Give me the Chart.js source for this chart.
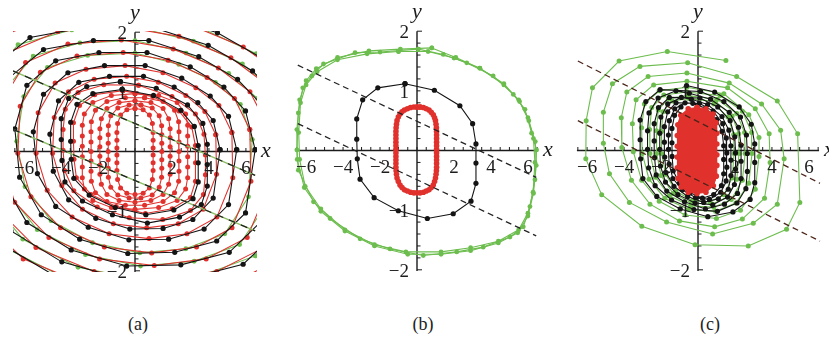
<!DOCTYPE html>
<html>
<head>
<meta charset="utf-8">
<title>Phase portraits</title>
<style>
  body { margin: 0; background: #fff; width: 829px; height: 337px; position: relative; overflow: hidden; }
  canvas { position: absolute; top: 0; }
  .caption { position: absolute; top: 314px; font: 18px "Liberation Serif", "Times New Roman", "DejaVu Serif", serif; color: #222; transform: translateX(-50%); }
</style>
<script src="https://cdn.jsdelivr.net/npm/chart.js@4.4.1/dist/chart.umd.min.js"></script>
</head>
<body>
<canvas id="panelA" width="276" height="290" style="left:0px"></canvas>
<canvas id="panelB" width="276" height="290" style="left:280px"></canvas>
<canvas id="panelC" width="276" height="290" style="left:553px"></canvas>
<div class="caption" style="left:138px">(a)</div>
<div class="caption" style="left:423px">(b)</div>
<div class="caption" style="left:710px">(c)</div>
<script>
// Axis labelling shared by all three panels
const xTickLabels = [-6, -4, -2, 2, 4, 6];
const yTickLabels = [2, 1, -1, -2];

// ---- panel (a): orbits, one array of [x, y] points per turn ----
const aBlackTurns = [
  [[-0.69,1.04],[1.00,0.94],[2.48,0.69],[3.21,0.42],[3.42,0.10],[3.42,-0.19],[3.42,-0.51],[3.14,-0.79],[2.10,-0.98],[0.59,-1.06],[-1.07,-0.94],[-2.48,-0.73],[-3.31,-0.45],[-3.45,-0.13],[-3.48,0.17],[-3.48,0.49],[-3.14,0.79],[-2.28,0.97]],
  [[-0.79,1.17],[1.15,1.06],[2.84,0.78],[3.67,0.47],[3.91,0.12],[3.91,-0.22],[3.91,-0.58],[3.59,-0.89],[2.41,-1.10],[0.67,-1.20],[-1.22,-1.06],[-2.84,-0.83],[-3.79,-0.51],[-3.95,-0.15],[-3.99,0.20],[-3.99,0.55],[-3.59,0.89],[-2.61,1.09]],
  [[4.60,0.03],[4.23,0.52],[3.40,0.82],[2.12,1.08],[0.46,1.26],[-1.38,1.26],[-3.04,1.16],[-4.14,0.85],[-4.60,0.29],[-4.42,-0.33],[-3.59,-0.81],[-2.12,-1.12],[-0.28,-1.30],[1.52,-1.29],[3.13,-1.14],[4.23,-0.78]],
  [[5.50,0.03],[5.06,0.59],[4.07,0.93],[2.53,1.23],[0.55,1.44],[-1.65,1.44],[-3.63,1.32],[-4.95,0.96],[-5.50,0.33],[-5.28,-0.37],[-4.29,-0.92],[-2.53,-1.27],[-0.33,-1.48],[1.82,-1.47],[3.74,-1.30],[5.06,-0.89]],
  [[6.50,0.03],[5.98,0.68],[4.81,1.08],[2.99,1.42],[0.65,1.66],[-1.95,1.66],[-4.29,1.52],[-5.85,1.11],[-6.50,0.38],[-6.24,-0.43],[-5.07,-1.06],[-2.99,-1.47],[-0.39,-1.71],[2.15,-1.69],[4.42,-1.50],[5.98,-1.03]],
  [[7.50,0.04],[6.90,0.77],[5.55,1.21],[3.45,1.59],[0.75,1.86],[-2.25,1.86],[-4.95,1.71],[-6.75,1.25],[-7.50,0.42],[-7.20,-0.48],[-5.85,-1.19],[-3.45,-1.65],[-0.45,-1.92],[2.48,-1.90],[5.10,-1.69],[6.90,-1.15]],
  [[8.60,0.04],[7.91,0.86],[6.36,1.35],[3.96,1.78],[0.86,2.09],[-2.58,2.09],[-5.68,1.91],[-7.74,1.40],[-8.60,0.47],[-8.26,-0.54],[-6.71,-1.33],[-3.96,-1.85],[-0.52,-2.15],[2.84,-2.13],[5.85,-1.89],[7.91,-1.29]],
  [[9.70,0.05],[8.92,0.96],[7.18,1.51],[4.46,1.99],[0.97,2.33],[-2.91,2.33],[-6.40,2.14],[-8.73,1.56],[-9.70,0.53],[-9.31,-0.60],[-7.57,-1.49],[-4.46,-2.06],[-0.58,-2.40],[3.20,-2.38],[6.60,-2.11],[8.92,-1.44]]
];
const aRedTurns = [
  [[0.00,0.72],[0.44,0.70],[0.78,0.61],[0.94,0.47],[0.98,0.32],[0.98,0.19],[0.98,0.06],[0.98,-0.06],[0.98,-0.19],[0.98,-0.32],[0.94,-0.47],[0.78,-0.61],[0.44,-0.70],[0.00,-0.72],[-0.44,-0.70],[-0.78,-0.61],[-0.94,-0.47],[-0.98,-0.32],[-0.98,-0.19],[-0.98,-0.06],[-0.98,0.06],[-0.98,0.19],[-0.98,0.32],[-0.94,0.47],[-0.78,0.61],[-0.44,0.70]],
  [[0.32,0.78],[0.93,0.73],[1.31,0.60],[1.44,0.43],[1.45,0.28],[1.45,0.14],[1.45,0.00],[1.45,-0.14],[1.45,-0.28],[1.44,-0.43],[1.31,-0.60],[0.93,-0.73],[0.32,-0.78],[-0.32,-0.78],[-0.93,-0.73],[-1.31,-0.60],[-1.44,-0.43],[-1.45,-0.28],[-1.45,-0.14],[-1.45,0.00],[-1.45,0.14],[-1.45,0.28],[-1.44,0.43],[-1.31,0.60],[-0.93,0.73],[-0.32,0.78]],
  [[0.00,0.85],[0.86,0.82],[1.52,0.72],[1.82,0.55],[1.90,0.38],[1.90,0.23],[1.90,0.08],[1.90,-0.08],[1.90,-0.23],[1.90,-0.38],[1.82,-0.55],[1.52,-0.72],[0.86,-0.82],[0.00,-0.85],[-0.86,-0.82],[-1.52,-0.72],[-1.82,-0.55],[-1.90,-0.38],[-1.90,-0.23],[-1.90,-0.08],[-1.90,0.08],[-1.90,0.23],[-1.90,0.38],[-1.82,0.55],[-1.52,0.72],[-0.86,0.82]],
  [[0.52,0.90],[1.52,0.84],[2.14,0.69],[2.36,0.50],[2.38,0.33],[2.38,0.16],[2.38,0.00],[2.38,-0.16],[2.38,-0.33],[2.36,-0.50],[2.14,-0.69],[1.52,-0.84],[0.52,-0.90],[-0.52,-0.90],[-1.52,-0.84],[-2.14,-0.69],[-2.36,-0.50],[-2.38,-0.33],[-2.38,-0.16],[-2.38,0.00],[-2.38,0.16],[-2.38,0.33],[-2.36,0.50],[-2.14,0.69],[-1.52,0.84],[-0.52,0.90]],
  [[0.00,0.97],[1.28,0.94],[2.28,0.82],[2.74,0.63],[2.85,0.44],[2.85,0.26],[2.85,0.09],[2.85,-0.09],[2.85,-0.26],[2.85,-0.44],[2.74,-0.63],[2.28,-0.82],[1.28,-0.94],[0.00,-0.97],[-1.28,-0.94],[-2.28,-0.82],[-2.74,-0.63],[-2.85,-0.44],[-2.85,-0.26],[-2.85,-0.09],[-2.85,0.09],[-2.85,0.26],[-2.85,0.44],[-2.74,0.63],[-2.28,0.82],[-1.28,0.94]],
  [[-0.66,1.02],[0.96,0.92],[2.38,0.68],[3.07,0.41],[3.27,0.10],[3.27,-0.19],[3.27,-0.50],[3.00,-0.77],[2.01,-0.96],[0.56,-1.04],[-1.02,-0.92],[-2.38,-0.72],[-3.17,-0.44],[-3.30,-0.13],[-3.33,0.17],[-3.33,0.48],[-3.00,0.77],[-2.18,0.95]],
  [[0.19,1.11],[2.00,0.92],[3.27,0.63],[3.73,0.29],[3.81,-0.06],[3.81,-0.39],[3.70,-0.72],[3.00,-0.99],[1.50,-1.14],[-0.31,-1.11],[-2.04,-0.93],[-3.31,-0.66],[-3.81,-0.32],[-3.89,0.02],[-3.89,0.37],[-3.77,0.71],[-3.08,0.99],[-1.69,1.12]],
  [[4.37,0.28],[3.78,0.67],[2.75,0.94],[1.26,1.16],[-0.45,1.26],[-2.21,1.21],[-3.60,1.00],[-4.37,0.57],[-4.46,-0.03],[-3.96,-0.57],[-2.84,-0.97],[-1.17,-1.21],[0.63,-1.28],[2.34,-1.21],[3.69,-0.97],[4.41,-0.38]],
  [[5.24,0.32],[4.54,0.77],[3.29,1.07],[1.51,1.32],[-0.54,1.44],[-2.65,1.38],[-4.32,1.15],[-5.24,0.65],[-5.35,-0.03],[-4.75,-0.65],[-3.40,-1.10],[-1.40,-1.38],[0.76,-1.46],[2.81,-1.38],[4.43,-1.10],[5.29,-0.44]],
  [[6.21,0.37],[5.38,0.89],[3.90,1.24],[1.79,1.53],[-0.64,1.66],[-3.14,1.60],[-5.12,1.33],[-6.21,0.76],[-6.34,-0.03],[-5.63,-0.76],[-4.03,-1.28],[-1.66,-1.60],[0.90,-1.70],[3.33,-1.60],[5.25,-1.28],[6.27,-0.50]],
  [[7.18,0.42],[6.22,1.00],[4.51,1.40],[2.07,1.72],[-0.74,1.87],[-3.63,1.80],[-5.92,1.49],[-7.18,0.85],[-7.33,-0.04],[-6.51,-0.85],[-4.66,-1.44],[-1.92,-1.80],[1.04,-1.91],[3.85,-1.80],[6.07,-1.44],[7.25,-0.57]],
  [[8.25,0.47],[7.14,1.12],[5.19,1.57],[2.38,1.93],[-0.85,2.10],[-4.17,2.01],[-6.80,1.67],[-8.25,0.95],[-8.42,-0.04],[-7.48,-0.95],[-5.36,-1.61],[-2.21,-2.01],[1.19,-2.14],[4.42,-2.01],[6.97,-1.61],[8.33,-0.64]],
  [[9.31,0.52],[8.06,1.26],[5.86,1.75],[2.69,2.16],[-0.96,2.35],[-4.70,2.25],[-7.68,1.87],[-9.31,1.07],[-9.50,-0.05],[-8.45,-1.07],[-6.05,-1.80],[-2.50,-2.25],[1.34,-2.39],[4.99,-2.25],[7.87,-1.80],[9.41,-0.71]]
];
const aGreenTurns = [
  [[6.34,0.20],[5.70,0.79],[4.35,1.16],[2.37,1.46],[0.00,1.65],[-2.56,1.61],[-4.74,1.41],[-6.02,0.92],[-6.40,0.17],[-5.95,-0.59],[-4.54,-1.16],[-2.30,-1.53],[0.26,-1.70],[2.75,-1.63],[4.86,-1.38],[6.14,-0.76]],
  [[7.38,0.23],[6.63,0.89],[5.07,1.31],[2.76,1.65],[0.00,1.86],[-2.98,1.82],[-5.51,1.60],[-7.00,1.05],[-7.45,0.19],[-6.93,-0.67],[-5.29,-1.31],[-2.68,-1.73],[0.30,-1.92],[3.20,-1.84],[5.66,-1.56],[7.15,-0.86]],
  [[8.46,0.26],[7.61,1.00],[5.81,1.47],[3.16,1.85],[0.00,2.09],[-3.42,2.04],[-6.33,1.79],[-8.04,1.17],[-8.55,0.21],[-7.95,-0.75],[-6.07,-1.47],[-3.08,-1.94],[0.34,-2.15],[3.68,-2.07],[6.50,-1.75],[8.21,-0.96]],
  [[9.55,0.29],[8.59,1.12],[6.56,1.64],[3.57,2.07],[0.00,2.33],[-3.86,2.28],[-7.14,2.00],[-9.07,1.31],[-9.65,0.24],[-8.97,-0.83],[-6.85,-1.64],[-3.47,-2.17],[0.39,-2.40],[4.15,-2.31],[7.33,-1.95],[9.26,-1.07]]
];
const aGuides = [[[-6.6,1.35],[6.5,-0.40]], [[-6.6,0.37],[6.5,-1.33]]];

// ---- panel (b) ----
const bGreenTurns = [
  [[0.07,1.70],[-2.00,1.65],[-3.35,1.64],[-5.06,1.45],[-5.69,1.25],[-6.18,1.05],[-6.42,0.63],[-6.50,0.01],[-6.42,-0.33],[-5.60,-0.86],[-4.70,-1.14],[-3.08,-1.48],[-1.46,-1.65],[0.34,-1.76],[2.15,-1.70],[3.58,-1.62],[5.03,-1.45],[5.75,-1.28],[6.11,-0.94],[6.38,-0.49],[6.47,0.01],[6.20,0.29],[5.84,0.69],[5.21,0.94],[4.12,1.25],[2.69,1.47],[1.42,1.61]],
  [[-1.00,1.66],[-2.70,1.62],[-4.30,1.52],[-5.40,1.32],[-6.00,1.10],[-6.30,0.80],[-6.40,0.30],[-6.35,-0.15],[-6.05,-0.60],[-5.20,-0.98],[-3.90,-1.33],[-2.30,-1.58],[-0.60,-1.70],[1.30,-1.70],[2.90,-1.63],[4.40,-1.52],[5.50,-1.33],[6.00,-1.05],[6.28,-0.70],[6.38,-0.20],[6.30,0.20],[6.00,0.55],[5.50,0.85],[4.70,1.10],[3.40,1.38],[2.00,1.55],[0.60,1.66]],
  [[0.80,1.72],[-0.90,1.70],[-2.60,1.67],[-4.30,1.56],[-5.45,1.37],[-6.00,1.17],[-6.35,0.85],[-6.50,0.35],[-6.48,-0.15],[-6.10,-0.62],[-5.20,-1.02],[-3.90,-1.35],[-2.30,-1.60],[-0.50,-1.74],[1.30,-1.74],[2.90,-1.68],[4.40,-1.55],[5.45,-1.38],[6.00,-1.10],[6.30,-0.72],[6.45,-0.25],[6.40,0.15],[6.05,0.50],[5.55,0.82],[4.70,1.12],[3.40,1.38],[2.10,1.56]]
];
const bBlackTurn = [[-0.65,1.12],[0.94,1.01],[2.32,0.75],[3.01,0.45],[3.19,0.11],[3.19,-0.21],[3.19,-0.55],[2.92,-0.85],[1.96,-1.06],[0.56,-1.14],[-1.01,-1.01],[-2.32,-0.79],[-3.08,-0.48],[-3.23,-0.14],[-3.26,0.19],[-3.26,0.53],[-2.94,0.85],[-2.12,1.05]];
const bRedTurns = [
  [[0.00,0.73],[0.35,0.72],[0.65,0.68],[0.88,0.60],[1.00,0.50],[1.05,0.38],[1.06,0.26],[1.06,0.14],[1.06,0.02],[1.06,-0.10],[1.06,-0.22],[1.05,-0.34],[1.00,-0.46],[0.88,-0.58],[0.65,-0.66],[0.35,-0.70],[0.00,-0.71],[-0.35,-0.70],[-0.68,-0.66],[-0.92,-0.58],[-1.08,-0.46],[-1.13,-0.34],[-1.14,-0.22],[-1.14,-0.10],[-1.14,0.02],[-1.14,0.14],[-1.14,0.26],[-1.13,0.38],[-1.08,0.50],[-0.92,0.61],[-0.68,0.68],[-0.35,0.72]],
  [[0.17,0.73],[0.50,0.70],[0.77,0.64],[0.95,0.55],[1.03,0.44],[1.06,0.32],[1.06,0.20],[1.06,0.08],[1.06,-0.04],[1.06,-0.16],[1.06,-0.28],[1.03,-0.40],[0.95,-0.52],[0.77,-0.62],[0.50,-0.68],[0.17,-0.71],[-0.17,-0.71],[-0.52,-0.68],[-0.81,-0.62],[-1.01,-0.52],[-1.11,-0.40],[-1.14,-0.28],[-1.14,-0.16],[-1.14,-0.04],[-1.14,0.08],[-1.14,0.20],[-1.14,0.32],[-1.11,0.44],[-1.01,0.56],[-0.81,0.65],[-0.52,0.70],[-0.17,0.73]]
];
const bGuides = [[[-6.45,1.43],[6.45,-0.45]], [[-6.45,0.45],[6.45,-1.43]]];

// ---- panel (c): spirals, turn by turn from the outside in ----
const cGreenTurns = [
  [[1.51,1.51],[-1.66,1.66],[-4.27,1.50],[-5.71,1.05],[-6.05,0.50],[-6.07,-0.14],[-5.21,-0.74],[-3.04,-1.27],[-0.16,-1.58],[2.72,-1.60],[4.79,-1.32],[5.51,-0.87],[5.39,0.28],[4.29,0.83],[2.09,1.24]],
  [[-0.56,1.47],[-3.14,1.41],[-4.63,1.12],[-5.12,0.64],[-5.12,0.12],[-4.79,-0.39],[-3.71,-0.87],[-1.70,-1.20],[0.79,-1.40],[2.99,-1.22],[4.29,-0.90],[4.66,-0.14],[4.47,0.34],[3.44,0.78],[1.69,1.13]],
  [[-0.60,1.30],[-2.70,1.24],[-3.85,0.98],[-4.15,0.55],[-4.12,0.05],[-3.60,-0.50],[-2.60,-0.90],[-1.00,-1.18],[0.90,-1.28],[2.40,-1.15],[3.60,-0.80],[3.90,-0.20],[3.85,0.28],[3.10,0.70],[1.60,1.05]],
  [[-0.60,1.16],[-2.40,1.10],[-3.35,0.85],[-3.55,0.45],[-3.50,-0.02],[-3.05,-0.50],[-2.10,-0.85],[-0.70,-1.08],[1.00,-1.14],[2.30,-1.00],[3.10,-0.65],[3.30,-0.10],[3.30,0.22],[2.75,0.60],[1.40,0.95]],
  [[-0.60,1.06],[-2.10,1.00],[-2.90,0.78],[-3.05,0.38],[-3.02,-0.05],[-2.65,-0.48],[-1.80,-0.80],[-0.50,-0.99],[0.95,-1.02],[2.05,-0.88],[2.75,-0.55],[2.92,-0.05],[2.90,0.30],[2.40,0.66],[1.20,0.92]],
  [[-0.60,0.98],[-1.85,0.93],[-2.50,0.72],[-2.62,0.35],[-2.60,-0.05],[-2.30,-0.45],[-1.55,-0.76],[-0.40,-0.93],[0.85,-0.95],[1.80,-0.82],[2.40,-0.50],[2.55,-0.05],[2.52,0.30],[2.10,0.62],[1.05,0.86]],
  [[-0.55,0.92],[-1.60,0.87],[-2.15,0.68],[-2.25,0.33],[-2.24,-0.05],[-2.00,-0.42],[-1.35,-0.72],[-0.35,-0.88],[0.75,-0.90],[1.60,-0.78],[2.10,-0.48],[2.22,-0.05],[2.20,0.28],[1.85,0.58],[0.95,0.82]],
  [[-0.50,0.87],[-1.40,0.83],[-1.90,0.65],[-1.98,0.32],[-1.97,-0.05],[-1.75,-0.40],[-1.20,-0.68],[-0.30,-0.84],[0.65,-0.86],[1.40,-0.74],[1.85,-0.46],[1.95,-0.05],[1.93,0.27],[1.62,0.56],[0.85,0.78]]
];
const cBlackTurns = [
  [[-0.62,1.09],[0.90,0.98],[2.23,0.73],[2.88,0.44],[3.07,0.11],[3.07,-0.20],[3.07,-0.54],[2.82,-0.82],[1.89,-1.03],[0.53,-1.11],[-0.96,-0.98],[-2.23,-0.77],[-2.98,-0.47],[-3.10,-0.14],[-3.13,0.18],[-3.13,0.51],[-2.82,0.82],[-2.05,1.02]],
  [[0.14,0.99],[1.40,0.82],[2.30,0.56],[2.62,0.26],[2.67,-0.05],[2.67,-0.35],[2.59,-0.64],[2.11,-0.88],[1.05,-1.02],[-0.22,-0.99],[-1.43,-0.83],[-2.32,-0.59],[-2.67,-0.29],[-2.73,0.02],[-2.73,0.33],[-2.65,0.63],[-2.16,0.88],[-1.19,1.00]],
  [[-0.47,0.96],[0.68,0.86],[1.69,0.64],[2.19,0.39],[2.33,0.09],[2.33,-0.18],[2.33,-0.47],[2.14,-0.72],[1.43,-0.90],[0.40,-0.98],[-0.73,-0.86],[-1.69,-0.68],[-2.26,-0.41],[-2.35,-0.12],[-2.37,0.16],[-2.37,0.45],[-2.14,0.72],[-1.55,0.89]],
  [[0.10,0.88],[1.07,0.73],[1.74,0.50],[1.99,0.23],[2.03,-0.04],[2.03,-0.31],[1.97,-0.57],[1.60,-0.78],[0.80,-0.91],[-0.16,-0.88],[-1.09,-0.74],[-1.76,-0.53],[-2.03,-0.26],[-2.07,0.02],[-2.07,0.29],[-2.01,0.56],[-1.64,0.78],[-0.90,0.89]],
  [[-0.36,0.86],[0.52,0.77],[1.30,0.57],[1.67,0.34],[1.78,0.08],[1.78,-0.16],[1.78,-0.42],[1.64,-0.65],[1.10,-0.81],[0.31,-0.87],[-0.56,-0.77],[-1.30,-0.60],[-1.73,-0.37],[-1.80,-0.11],[-1.82,0.14],[-1.82,0.40],[-1.64,0.65],[-1.19,0.80]],
  [[0.08,0.79],[0.82,0.66],[1.34,0.45],[1.53,0.21],[1.56,-0.04],[1.56,-0.28],[1.52,-0.51],[1.23,-0.70],[0.62,-0.82],[-0.13,-0.79],[-0.84,-0.66],[-1.36,-0.47],[-1.56,-0.23],[-1.60,0.02],[-1.60,0.26],[-1.55,0.50],[-1.26,0.70],[-0.70,0.80]],
  [[-0.28,0.79],[0.41,0.71],[1.01,0.52],[1.30,0.32],[1.39,0.08],[1.39,-0.15],[1.39,-0.39],[1.27,-0.59],[0.85,-0.74],[0.24,-0.80],[-0.43,-0.71],[-1.01,-0.55],[-1.34,-0.34],[-1.40,-0.10],[-1.41,0.13],[-1.41,0.37],[-1.27,0.59],[-0.92,0.73]]
];
const cRedCore = [[-0.05,0.72],[0.43,0.70],[0.81,0.61],[0.98,0.47],[1.02,0.29],[1.02,0.11],[1.02,-0.07],[1.02,-0.25],[0.99,-0.43],[0.83,-0.59],[0.43,-0.70],[-0.05,-0.72],[-0.53,-0.70],[-0.91,-0.61],[-1.08,-0.47],[-1.12,-0.29],[-1.12,-0.11],[-1.12,0.07],[-1.12,0.25],[-1.09,0.43],[-0.93,0.59],[-0.53,0.70]];
const cGuides = [[[-6.5,1.50],[6.6,-0.55]], [[-6.5,0.50],[6.6,-1.52]]];

const GREEN = '#6cbd4e';
const RED = '#e1312d';
const BLACK = '#141414';
const MINUS = '\u2212';
const SERIF = '"Liberation Serif", "Times New Roman", "DejaVu Serif", serif';

const fmt = v => (v < 0 ? MINUS + Math.abs(v) : String(v));

// one orbit (closed) or one spiral (open) as a scatter-with-line dataset
function trace(points, color, close, radius = 2.6) {
  const pts = close ? points.concat([points[0]]) : points;
  return {
    data: pts.map(([x, y]) => ({ x, y })),
    showLine: true,
    borderColor: color,
    backgroundColor: color,
    borderWidth: 1.1,
    pointRadius: radius,
    pointBorderWidth: 0,
    pointHoverRadius: 0
  };
}

function guide(line, color, dash, width = 1.3) {
  return {
    data: line.map(([x, y]) => ({ x, y })),
    showLine: true,
    borderColor: color,
    borderWidth: width,
    borderDash: dash,
    pointRadius: 0
  };
}

// axes through the origin, drawn under the orbits; labels on top
const centerAxes = {
  id: 'centerAxes',
  beforeDatasetsDraw(chart) {
    const { ctx, scales: { x, y } } = chart;
    const ox = x.getPixelForValue(0);
    const oy = y.getPixelForValue(0);
    ctx.save();
    ctx.strokeStyle = '#1c1c1c';
    ctx.lineWidth = 1.4;
    ctx.beginPath();
    ctx.moveTo(x.getPixelForValue(-6.55), oy);
    ctx.lineTo(x.getPixelForValue(6.55), oy);
    ctx.moveTo(ox, y.getPixelForValue(2));
    ctx.lineTo(ox, y.getPixelForValue(-2.02));
    ctx.stroke();
    ctx.lineWidth = 1;
    ctx.beginPath();
    for (let i = -13; i <= 13; i++) {
      const px = x.getPixelForValue(i * 0.5);
      ctx.moveTo(px, oy);
      ctx.lineTo(px, oy - 3.5);
    }
    for (let j = -10; j <= 10; j++) {
      const py = y.getPixelForValue(j * 0.2);
      ctx.moveTo(ox, py);
      ctx.lineTo(ox + (Math.abs(j) === 10 ? 5 : 3.5), py);
    }
    ctx.stroke();
    ctx.restore();
  },
  afterDatasetsDraw(chart) {
    const { ctx, scales: { x, y } } = chart;
    const ox = x.getPixelForValue(0);
    const oy = y.getPixelForValue(0);
    ctx.save();
    ctx.fillStyle = '#1c1c1c';
    ctx.font = '19px ' + SERIF;
    ctx.textBaseline = 'middle';
    ctx.textAlign = 'center';
    xTickLabels.forEach(v => ctx.fillText(fmt(v), x.getPixelForValue(v), oy + 18));
    ctx.textAlign = 'right';
    yTickLabels.forEach(v => ctx.fillText(fmt(v), ox - 8, y.getPixelForValue(v) + 2));
    ctx.font = 'italic 22px ' + SERIF;
    ctx.textAlign = 'left';
    ctx.fillText('x', x.getPixelForValue(6.55) + 5, oy);
    ctx.textAlign = 'center';
    ctx.fillText('y', ox, y.getPixelForValue(2) - 19);
    ctx.restore();
  }
};

// datasets are listed bottom to top; Chart.js paints index 0 last
function drawPanel(id, padding, layers, clip) {
  const datasets = layers.map(d => ({ clip, ...d })).reverse();
  new Chart(document.getElementById(id), {
    type: 'scatter',
    data: { datasets },
    options: {
      responsive: false,
      animation: false,
      events: [],
      layout: { padding },
      elements: { line: { tension: 0 } },
      scales: {
        x: { type: 'linear', min: -6.6, max: 6.6, display: false },
        y: { type: 'linear', min: -2.02, max: 2.02, display: false }
      },
      plugins: { legend: { display: false }, tooltip: { enabled: false } }
    },
    plugins: [centerAxes]
  });
}

// (a)
drawPanel('panelA', { left: 13, right: 19, top: 31, bottom: 18 }, [
  ...aGreenTurns.map(t => trace(t, GREEN, true, 2.4)),
  ...aRedTurns.map(t => trace(t, RED, true, 2.5)),
  ...aBlackTurns.map(t => trace(t, BLACK, true, 2.6)),
  ...aGuides.map(g => guide(g, '#8cbf66', [], 1.4)),
  ...aGuides.map(g => guide(g, '#222', [7, 6]))
], 0);

// (b)
drawPanel('panelB', { left: 15, right: 17, top: 30, bottom: 19 }, [
  ...bGreenTurns.map(t => trace(t, GREEN, true, 2.4)),
  trace(bBlackTurn, BLACK, true, 2.6),
  ...bRedTurns.map(t => trace(t, RED, true, 2.8)),
  ...bGuides.map(g => guide(g, '#222', [6, 4]))
], 6);

// (c)
drawPanel('panelC', { left: 23, right: 9, top: 30, bottom: 19 }, [
  trace(cGreenTurns.flat(), GREEN, false, 2.5),
  trace(cBlackTurns.flat(), BLACK, false, 2.6),
  { ...trace(cRedCore, RED, true, 2.8), fill: 'shape' },
  ...cGuides.map(g => guide(g, '#4a2418', [6, 4]))
], 6);
</script>
</body>
</html>
